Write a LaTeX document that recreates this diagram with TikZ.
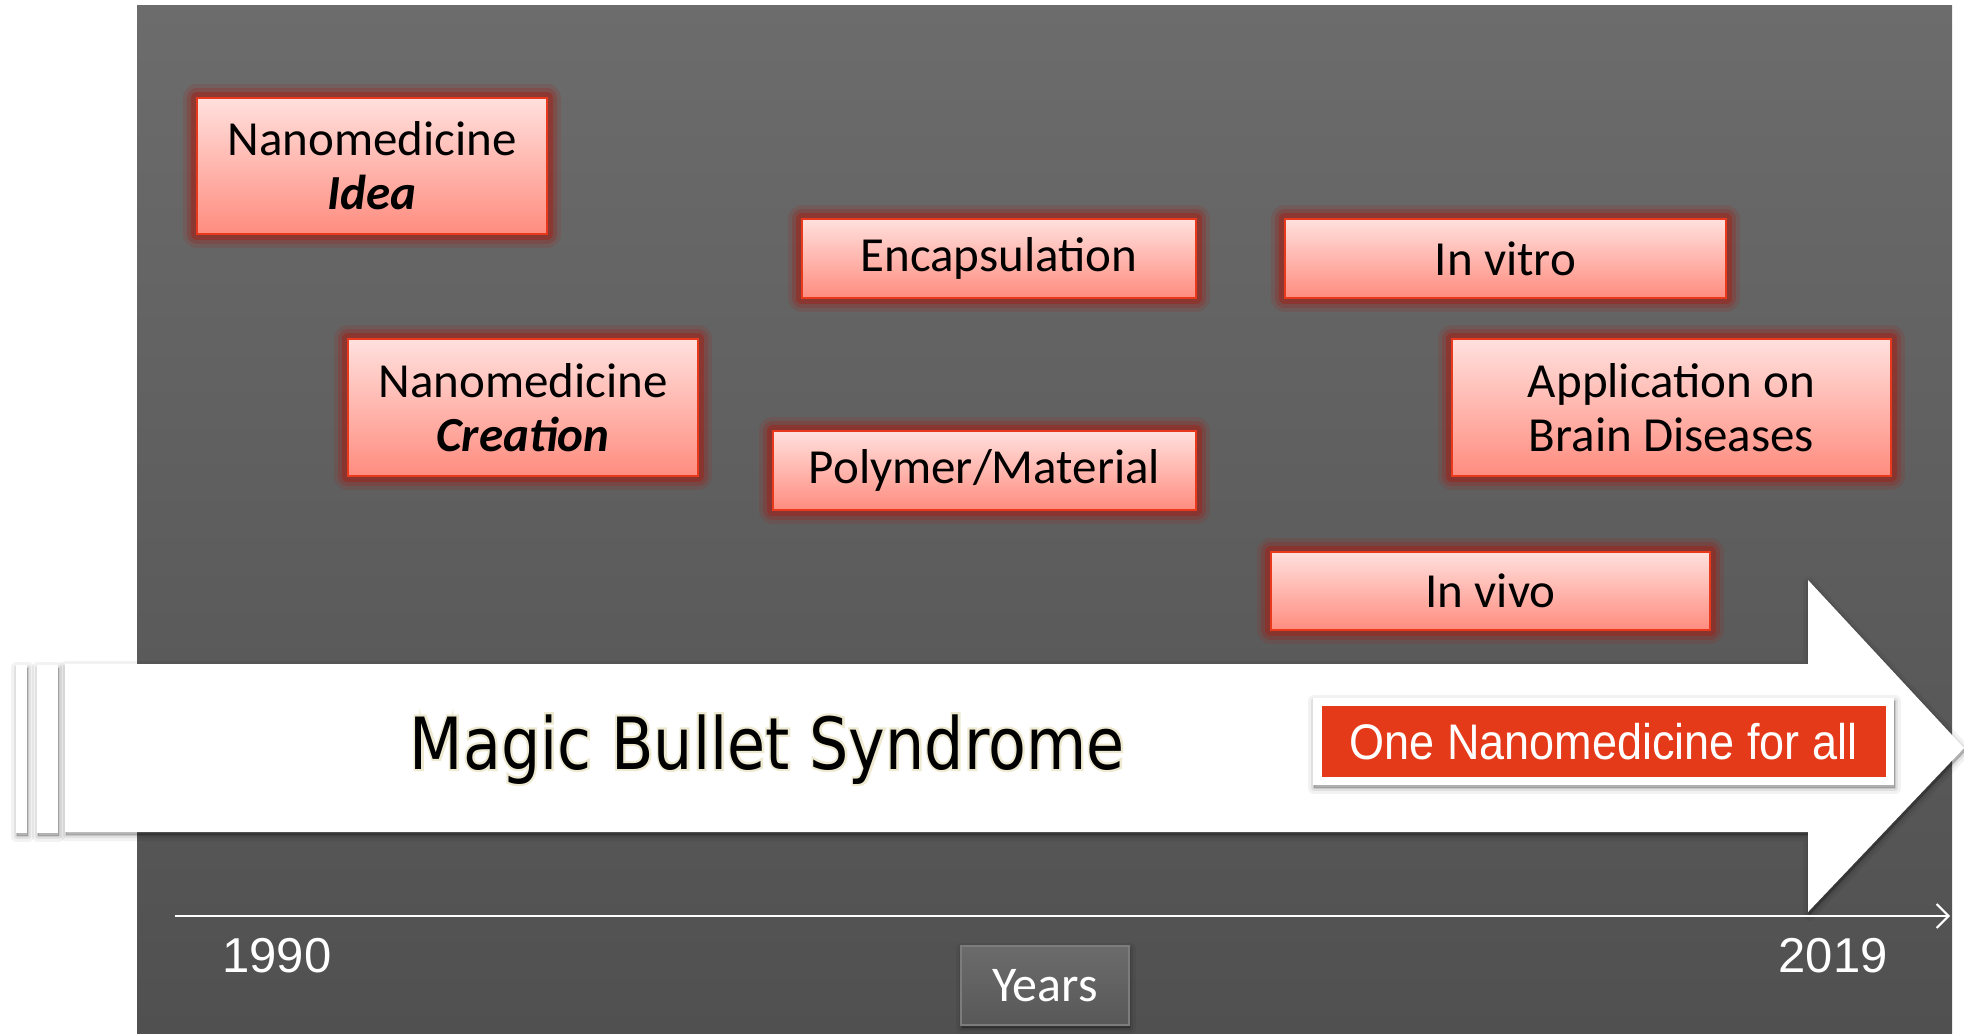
\documentclass[tikz,border=0pt]{standalone}
\usepackage{fontspec}
\setmainfont{Carlito}
\newfontfamily\magicfont[FakeStretch=0.86]{DejaVu Sans}
\newfontfamily\magicglowfont[FakeStretch=0.86,FakeBold=6]{DejaVu Sans}
\newfontfamily\arialfont{Liberation Sans}
\newfontfamily\narrowfont[FakeStretch=0.9]{Liberation Sans}
\usetikzlibrary{arrows.meta,calc}
\definecolor{bgtop}{HTML}{6C6C6C}
\definecolor{bgbot}{HTML}{505050}
\definecolor{boxtop}{HTML}{FFE0DD}
\definecolor{boxbot}{HTML}{FF8C7F}
\definecolor{boxline}{HTML}{E8391C}
\definecolor{glowred}{HTML}{A02018}
\definecolor{onered}{HTML}{E53A19}
\definecolor{cream}{HTML}{EEEAD2}
\definecolor{yrtop}{HTML}{6B6B6B}
\definecolor{yrbot}{HTML}{585858}
\definecolor{yrline}{HTML}{7C7C7C}
\tikzset{
  redbox/.style={rectangle, top color=boxtop, bottom color=boxbot,
    draw=boxline, line width=2.5pt, align=center, text=black,
    font=\fontsize{49}{58}\selectfont, inner sep=0pt,
    preaction={draw=glowred, line width=28pt, opacity=0.15, line join=round},
    preaction={draw=glowred, line width=20pt, opacity=0.25, line join=round},
    preaction={draw=glowred, line width=12pt, opacity=0.45, line join=round}},
  softshadow/.style={
    preaction={fill=black, draw=black, opacity=0.05, line width=12pt, line join=round, transform canvas={xshift=1pt,yshift=-3pt}},
    preaction={fill=black, draw=black, opacity=0.07, line width=6pt, line join=round, transform canvas={xshift=1pt,yshift=-3pt}},
    preaction={fill=black, draw=black, opacity=0.1, line width=1.5pt, line join=round, transform canvas={xshift=1pt,yshift=-3pt}}},
  whiteshape/.style={fill=white, softshadow},
  magictext/.style={anchor=base, inner sep=0pt},
  yearlbl/.style={font=\arialfont\fontsize{49}{55}\selectfont, text=white, inner sep=0pt},
}
\begin{document}
\begin{tikzpicture}[x=1pt,y=-1pt]
\useasboundingbox (0,0) rectangle (1964,1033);
% background
\shade[top color=bgtop, bottom color=bgbot] (137,6) rectangle (1952,1033);
% boxes
\node[redbox, minimum width=350pt, minimum height=136pt] (idea) at (372,166) {Nanomedicine\\[-4pt]\textbf{\textit{Idea}}};
\node[redbox, minimum width=350pt, minimum height=137pt] (creation) at (523,407.5) {Nanomedicine\\[-4pt]\textbf{\textit{Creation}}};
\node[redbox, minimum width=394pt, minimum height=79pt] (encap) at (999,258.5) {Encapsulation};
\node[redbox, minimum width=423pt, minimum height=79pt] (polymer) at (984.5,470.5) {Polymer/Material};
\node[redbox, minimum width=441pt, minimum height=79pt] (invitro) at (1505.5,258.5) {In vitro};
\node[redbox, minimum width=439pt, minimum height=137pt] (brain) at (1671.5,407.5) {Application on\\[-4pt]Brain Diseases};
\node[redbox, minimum width=439pt, minimum height=78pt] (invivo) at (1490.5,591) {In vivo};
% bars
\fill[whiteshape] (16,665) rectangle (27,833);
\fill[whiteshape] (37,665) rectangle (58,833);
% arrow
\fill[whiteshape] (65,664) -- (1808,664) -- (1808,580) -- (1964,748) -- (1808,912) -- (1808,832) -- (65,832) -- cycle;
% magic text with glow
\node[magictext, text=cream, font=\magicglowfont\fontsize{72}{80}\selectfont] (magicglow) at (767,769) {Magic Bullet Syndrome};
\node[magictext, text=black, font=\magicfont\fontsize{72}{80}\selectfont] (magic) at (767,769) {Magic Bullet Syndrome};
% one nanomedicine
\node[fill=white, minimum width=581pt, minimum height=87pt, inner sep=0pt, softshadow] (oneframe) at (1603.5,741.5) {};
\node[fill=onered, minimum width=564pt, minimum height=71pt, inner sep=0pt, text=white,
  font=\narrowfont\fontsize{50}{55}\selectfont] (one) at (oneframe.center) {One Nanomedicine for all};
% axis
\coordinate (axstart) at (175,916);
\coordinate (axend) at (1950,916);
\draw[white, line width=2pt, -{Straight Barb[length=12pt,width=24pt,line width=2pt]}] (axstart) -- (axend);
\node[yearlbl] (y1990) at (277,956) {1990};
\node[yearlbl] (y2019) at (1833,956) {2019};
% years box
\node[top color=yrtop, bottom color=yrbot, draw=yrline, line width=1.5pt,
  minimum width=168pt, minimum height=79pt, inner sep=0pt, text=white,
  font=\fontsize{50}{55}\selectfont, softshadow] (years) at (1045,985.5) {Years};
\end{tikzpicture}
\end{document}
